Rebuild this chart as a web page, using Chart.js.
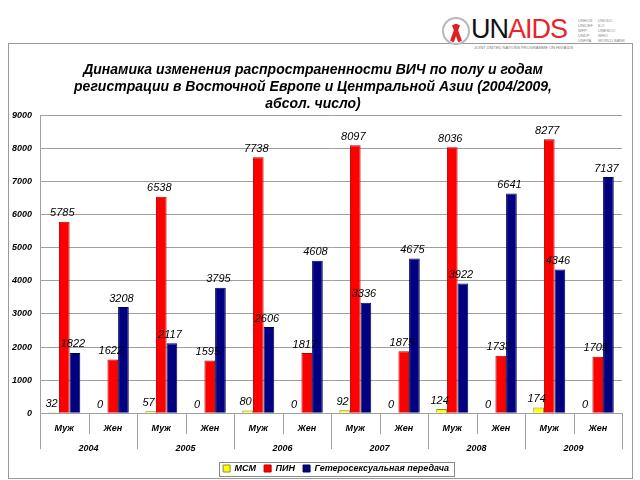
<!DOCTYPE html>
<html>
<head>
<meta charset="utf-8">
<script src="https://cdn.jsdelivr.net/npm/chart.js@4.4.0/dist/chart.umd.min.js"></script>
<style>
  body { margin: 0; background: #fff; font-family: "Liberation Sans", Arial, sans-serif; }
  #wrap { position: relative; width: 640px; height: 480px; overflow: hidden; }
  #frame { position: absolute; left: 8px; top: 43px; width: 623px; height: 434px; border: 1px solid #9a9a9a; }
  #myChart { position: absolute; left: 0; top: 0; }
  .logo { position: absolute; top: 12px; left: 440px; width: 200px; height: 36px; }
  .emblem { position: absolute; left: 2px; top: 5px; width: 24px; height: 24px; border: 2px solid #b8b8b8; border-radius: 50%; }
  .rib1, .rib2 { position: absolute; top: 5px; width: 4px; height: 18px; background: #e02020; }
  .rib1 { left: 9px; transform: rotate(20deg); }
  .rib2 { left: 11px; transform: rotate(-20deg); }
  .un { position: absolute; left: 31px; top: 2px; font-size: 27px; letter-spacing: -1px; color: #111; }
  .un span { color: #e8232a; }
  .sub { position: absolute; left: 34px; top: 33px; font-size: 4px; color: #777; white-space: nowrap; }
  .col { position: absolute; top: 6px; font-size: 4px; line-height: 5px; color: #888; }
</style>
</head>
<body>
<div id="wrap">
  <div id="frame"></div>
  <div class="logo">
    <div class="emblem"><div class="rib1"></div><div class="rib2"></div></div>
    <div class="un">UN<span>AIDS</span></div>
    <div class="sub">JOINT UNITED NATIONS PROGRAMME ON HIV/AIDS</div>
    <div class="col" style="left:138px">UNHCR<br>UNICEF<br>WFP<br>UNDP<br>UNFPA</div>
    <div class="col" style="left:158px">UNODC<br>ILO<br>UNESCO<br>WHO<br>WORLD BANK</div>
  </div>
  <canvas id="myChart" width="640" height="480"></canvas>
</div>
<script>
const sexLabels = ['Муж','Жен','Муж','Жен','Муж','Жен','Муж','Жен','Муж','Жен','Муж','Жен'];
const years = ['2004','2005','2006','2007','2008','2009'];
const msm = [32, 0, 57, 0, 80, 0, 92, 0, 124, 0, 174, 0];
const pin = [5785, 1622, 6538, 1595, 7738, 1817, 8097, 1875, 8036, 1733, 8277, 1709];
const hetero = [1822, 3208, 2117, 3795, 2606, 4608, 3336, 4675, 3922, 6641, 4346, 7137];
const yTicks = [0, 1000, 2000, 3000, 4000, 5000, 6000, 7000, 8000, 9000];

const FONT = '"Liberation Sans", Arial, sans-serif';

// value labels above every bar
const valueLabels = {
    id: 'valueLabels',
    afterDatasetsDraw(chart) {
        const ctx = chart.ctx;
        ctx.save();
        ctx.font = 'italic 11px ' + FONT;
        ctx.fillStyle = '#000';
        ctx.textAlign = 'center';
        ctx.textBaseline = 'bottom';
        chart.data.datasets.forEach((ds, d) => {
            const meta = chart.getDatasetMeta(d);
            meta.data.forEach((bar, i) => {
                ctx.fillText(String(ds.data[i]), bar.x - 2, bar.y - 3);
            });
        });
        ctx.restore();
    }
};

// separators under the x axis (short ones between sexes, long ones between years)
const axisSeparators = {
    id: 'axisSeparators',
    afterLayout(chart) {
        // legend sits a bit right of centre in the original
        chart.legend.left += 23;
        chart.legend.right += 23;
    },
    afterDraw(chart) {
        const x = chart.scales.x;
        const ctx = chart.ctx;
        const n = sexLabels.length;
        const w = (x.right - x.left) / n;
        ctx.save();
        ctx.strokeStyle = '#a0a0a0';
        ctx.lineWidth = 1;
        for (let i = 0; i <= n; i++) {
            const px = Math.round(x.left + i * w) + 0.5;
            const len = i % 2 == 0 ? 36 : 21;
            ctx.beginPath();
            ctx.moveTo(px, x.top);
            ctx.lineTo(px, x.top + len);
            ctx.stroke();
        }
        // box around legend items
        const boxes = chart.legend.legendHitBoxes;
        if (boxes && boxes.length) {
            const first = boxes[0];
            const last = boxes[boxes.length - 1];
            const l = Math.round(first.left - 4) + 0.5;
            const r = Math.round(last.left + last.width + 5) + 0.5;
            const t = Math.round(first.top + first.height / 2 - 7) + 0.5;
            ctx.strokeStyle = '#888';
            ctx.strokeRect(l, t, r - l, 14);
        }
        ctx.restore();
    }
};

const chartData = {
    labels: sexLabels,
    datasets: [
        { label: 'МСМ', data: msm, backgroundColor: '#ffff00', borderColor: '#8c8c20', borderWidth: 1 },
        { label: 'ПИН', data: pin, backgroundColor: '#ff0000', borderColor: '#b00000', borderWidth: 1 },
        { label: 'Гетеросексуальная передача', data: hetero, backgroundColor: '#000080', borderColor: '#000050', borderWidth: 1 }
    ]
};

const config = {
    type: 'bar',
    data: chartData,
    options: {
        responsive: false,
        animation: false,
        layout: { padding: { top: 62, left: 4, right: 18, bottom: -3 } },
        datasets: { bar: { categoryPercentage: 0.66, barPercentage: 1.0 } },
        plugins: {
            title: {
                display: true,
                text: ['Динамика изменения распространенности ВИЧ по полу и годам',
                       'регистрации в Восточной Европе и Центральной Азии (2004/2009,',
                       'абсол. число)'],
                color: '#000',
                font: { family: FONT, size: 14, weight: 'bold', style: 'italic', lineHeight: 1.2 },
                padding: { top: 0, bottom: 3 }
            },
            legend: {
                position: 'bottom',
                // empty title only used as a spacer above the items
                title: { display: true, text: '', font: { size: 1 }, padding: { top: 2, bottom: 0 } },
                labels: {
                    color: '#000',
                    boxWidth: 7,
                    boxHeight: 7,
                    padding: 8,
                    font: { family: FONT, size: 9, weight: 'bold', style: 'italic' }
                }
            },
            tooltip: { enabled: false }
        },
        scales: {
            x: {
                grid: { display: false, drawTicks: false },
                border: { color: '#a0a0a0' },
                ticks: { color: '#000', padding: 10, font: { family: FONT, size: 9, weight: 'bold', style: 'italic' } }
            },
            x2: {
                type: 'category',
                labels: years,
                position: 'bottom',
                offset: true,
                grid: { display: false, drawTicks: false },
                border: { display: false },
                ticks: { color: '#000', padding: -1, font: { family: FONT, size: 9, weight: 'bold', style: 'italic' } }
            },
            y: {
                min: 0,
                max: 9000,
                afterBuildTicks: axis => { axis.ticks = yTicks.map(v => ({ value: v })); },
                grid: { color: '#a0a0a0', drawTicks: false },
                border: { color: '#a0a0a0' },
                ticks: {
                    color: '#000',
                    padding: 8,
                    font: { family: FONT, size: 9, weight: 'bold', style: 'italic' },
                    callback: v => String(v)
                }
            }
        }
    },
    plugins: [valueLabels, axisSeparators]
};

new Chart(document.getElementById('myChart'), config);
</script>
</body>
</html>
